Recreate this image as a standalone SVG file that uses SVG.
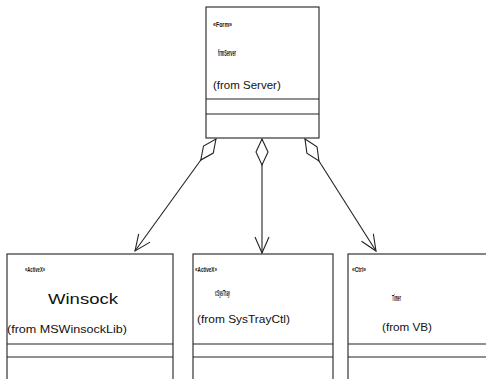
<svg xmlns="http://www.w3.org/2000/svg" width="486" height="379" viewBox="0 0 486 379">
<style>
.box{fill:#fff;stroke:#222;stroke-width:1.1}
.div{stroke:#222;stroke-width:1.1}
.t{font-family:"Liberation Sans",Arial,sans-serif;fill:#111}
.from{font-size:11.5px}
.st{font-size:8px;font-weight:bold}
.nm{font-size:9px;font-weight:bold}
.conn{stroke:#222;stroke-width:1.1;fill:none}
</style>
<defs>
<marker id="dia" markerUnits="userSpaceOnUse" markerWidth="30" markerHeight="14" refX="1" refY="7" orient="auto" viewBox="0 0 30 14">
<path d="M1,7 L14,1 L27,7 L14,13 Z" fill="#fff" stroke="#222" stroke-width="1.1"/>
</marker>
<marker id="arr" markerUnits="userSpaceOnUse" markerWidth="18" markerHeight="16" refX="17" refY="8" orient="auto" viewBox="0 0 18 16">
<path d="M1,1 L17,8 L1,15" fill="none" stroke="#222" stroke-width="1.1"/>
</marker>
</defs>
<rect width="486" height="379" fill="#fff"/>
<g id="connectors">
<path class="conn" d="M216,139 L135,251" marker-start="url(#dia)" marker-end="url(#arr)"/>
<path class="conn" d="M262,139 L262,253" marker-start="url(#dia)" marker-end="url(#arr)"/>
<path class="conn" d="M305,139 L376,251" marker-start="url(#dia)" marker-end="url(#arr)"/>
</g>
<g id="server">
<rect class="box" x="206" y="7" width="113" height="131"/>
<line class="div" x1="206" y1="99" x2="319" y2="99"/>
<line class="div" x1="206" y1="114" x2="319" y2="114"/>
<text class="t st" x="213" y="27" textLength="19" lengthAdjust="spacingAndGlyphs">«Form»</text>
<text class="t nm" x="218" y="56" textLength="18" lengthAdjust="spacingAndGlyphs">frmServer</text>
<text class="t from" x="213" y="89">(from Server)</text>
</g>
<g id="winsock">
<rect class="box" x="7" y="254" width="166" height="140"/>
<line class="div" x1="7" y1="344" x2="173" y2="344"/>
<line class="div" x1="7" y1="357" x2="173" y2="357"/>
<text class="t st" x="25" y="272" textLength="20" lengthAdjust="spacingAndGlyphs">«ActiveX»</text>
<text class="t" x="48" y="304" font-size="15" textLength="70" lengthAdjust="spacingAndGlyphs">Winsock</text>
<text class="t from" x="7" y="333" textLength="120" lengthAdjust="spacingAndGlyphs">(from MSWinsockLib)</text>
</g>
<g id="systray">
<rect class="box" x="193" y="254" width="140" height="140"/>
<line class="div" x1="193" y1="344" x2="333" y2="344"/>
<line class="div" x1="193" y1="357" x2="333" y2="357"/>
<text class="t st" x="195" y="272" textLength="22" lengthAdjust="spacingAndGlyphs">«ActiveX»</text>
<text class="t nm" x="215" y="296" textLength="15" lengthAdjust="spacingAndGlyphs">cSysTray</text>
<text class="t from" x="197" y="323" textLength="93" lengthAdjust="spacingAndGlyphs">(from SysTrayCtl)</text>
</g>
<g id="timer">
<rect class="box" x="348" y="254" width="150" height="140"/>
<line class="div" x1="348" y1="344" x2="490" y2="344"/>
<line class="div" x1="348" y1="357" x2="490" y2="357"/>
<text class="t st" x="352" y="272" textLength="14" lengthAdjust="spacingAndGlyphs">«Ctrl»</text>
<text class="t nm" x="392" y="301" textLength="9" lengthAdjust="spacingAndGlyphs">Timer</text>
<text class="t from" x="382" y="331" textLength="50" lengthAdjust="spacingAndGlyphs">(from VB)</text>
</g>
</svg>
